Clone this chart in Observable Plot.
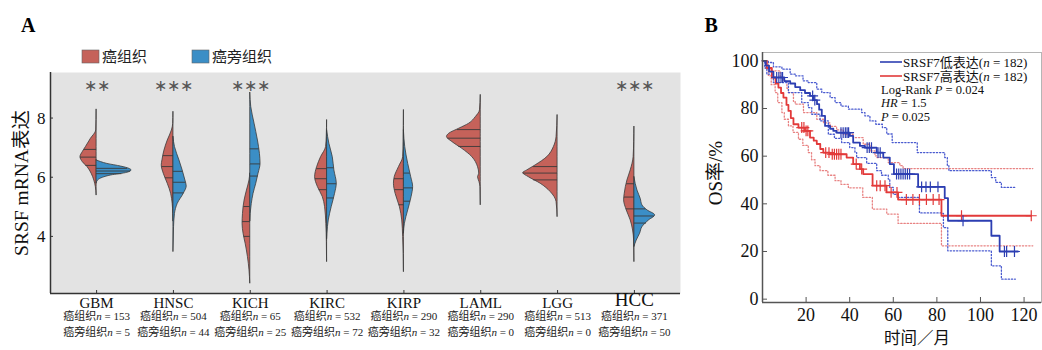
<!DOCTYPE html>
<html><head><meta charset="utf-8">
<script src="https://cdn.jsdelivr.net/npm/d3@7"></script>
<script src="https://cdn.jsdelivr.net/npm/@observablehq/plot@0.6"></script>
<style>
body{margin:0;background:#fff;}
#root{position:relative;width:1042px;height:350px;overflow:hidden;background:#fff;}
#root > svg{position:absolute;top:0;}
</style></head>
<body><div id="root"></div>
<script>
// ---------------- Panel A data ----------------
const cats = ["GBM","HNSC","KICH","KIRC","KIRP","LAML","LGG","HCC"];
const tumorN = [153,504,65,532,290,290,513,371];
const normalN = [5,44,25,72,32,0,0,50];
const sigStars = ["∗∗","∗∗∗","∗∗∗","","","","","∗∗∗"];
const groups = ["癌组织","癌旁组织"];
// violin outlines: [expression value, half-width in category units]
const gbmTumor  = [[8.28,0],[7.58,0.005],[7.3,0.074],[7.02,0.139],[6.85,0.18],[6.68,0.21],[6.51,0.18],[6.34,0.117],[6.12,0.065],[5.89,0.03],[5.67,0.01],[5.38,0]];
const gbmNormal = [[6.57,0],[6.45,0.14],[6.36,0.32],[6.28,0.43],[6.23,0.455],[6.15,0.40],[6.06,0.19],[5.98,0.08],[5.89,0.02],[5.78,0]];
const hnscTumor = [[8.2,0],[7.8,0.003],[7.58,0.02],[7.24,0.074],[6.9,0.117],[6.57,0.143],[6.4,0.152],[6.12,0.126],[5.78,0.074],[5.44,0.03],[5.1,0.01],[4.76,0.002],[4.5,0]];
const hnscNormal= [[7.36,0],[7.02,0.02],[6.57,0.078],[6.23,0.12],[5.89,0.156],[5.69,0.173],[5.44,0.134],[5.1,0.056],[4.76,0.02],[4.31,0.008],[3.86,0.004],[3.47,0]];
const kichTumor = [[6.12,0],[5.89,0.01],[5.55,0.043],[5.21,0.074],[4.76,0.095],[4.42,0.1],[4.09,0.087],[3.75,0.06],[3.3,0.03],[2.85,0.01],[2.4,0]];
const kichNormal= [[8.85,0],[8.37,0.013],[7.81,0.056],[7.24,0.1],[6.79,0.126],[6.45,0.134],[6.12,0.108],[5.78,0.078],[5.44,0.043],[5.1,0.02],[4.76,0.005],[4.5,0]];
const kircTumor = [[7.92,0],[7.4,0.004],[7.02,0.013],[6.68,0.078],[6.34,0.13],[6.0,0.156],[5.67,0.12],[5.33,0.056],[4.99,0.026],[4.42,0.01],[3.8,0.003],[3.13,0]];
const kircNormal= [[7.58,0],[7.13,0.03],[6.68,0.074],[6.23,0.095],[5.78,0.126],[5.44,0.104],[4.99,0.06],[4.54,0.022],[4.09,0.004],[3.9,0]];
const kirpTumor = [[8.26,0],[7.2,0.003],[6.68,0.01],[6.34,0.065],[6.0,0.12],[5.78,0.13],[5.44,0.108],[4.99,0.052],[4.54,0.022],[3.98,0.01],[3.4,0.003],[2.79,0]];
const kirpNormal= [[7.58,0],[7.02,0.017],[6.45,0.056],[6.0,0.095],[5.67,0.12],[5.33,0.1],[4.88,0.056],[4.43,0.013],[4.09,0]];
const lamlTumor = [[8.77,0],[8.26,0.01],[8.03,0.065],[7.81,0.15],[7.64,0.28],[7.47,0.41],[7.36,0.44],[7.19,0.37],[6.96,0.24],[6.68,0.11],[6.34,0.035],[6.12,0.02],[6.0,0.035],[5.84,0.017],[5.67,0.004],[5.05,0]];
const lggTumor  = [[8.09,0],[7.36,0.013],[7.02,0.048],[6.68,0.134],[6.4,0.286],[6.23,0.395],[6.14,0.447],[6.0,0.373],[5.78,0.22],[5.5,0.09],[5.16,0.013],[4.65,0]];
const hccTumor  = [[7.7,0],[7.2,0.003],[6.68,0.01],[6.23,0.048],[5.89,0.091],[5.44,0.126],[5.22,0.134],[4.88,0.1],[4.54,0.048],[4.2,0.017],[3.86,0.004],[3.13,0]];
const hccNormal = [[6.0,0],[5.55,0.04],[5.27,0.082],[5.05,0.104],[4.88,0.17],[4.71,0.27],[4.54,0.19],[4.31,0.104],[4.09,0.074],[3.86,0.03],[3.64,0]];
// quartiles [Q1, median, Q3]
const tumorQ  = [[6.40,6.68,6.94],[5.98,6.36,6.73],[4.0,4.5,5.01],[5.58,5.95,6.29],[5.07,5.58,5.95],[7.04,7.32,7.61],[5.91,6.14,6.36],[4.93,5.33,5.78]];
const normalQ = [[6.12,6.21,6.30],[5.47,5.83,6.20],[6.04,6.45,6.96],[5.30,5.78,6.32],[5.19,5.64,6.14],null,null,[4.45,4.69,4.93]];
const yTicksA = [4,6,8];

// ---------------- Panel B data (Kaplan-Meier) ----------------
const lowCurve = [[0,100],[1.5,98],[3,95.5],[5,93],[10,91.5],[12.7,90.5],[15,89],[17.3,87.7],[19.5,86.5],[21.8,85.3],[23.5,83.5],[25,81.8],[26,79.5],[27.2,76.9],[28.7,72.7],[31,71.5],[32.5,70.6],[34,69.9],[40,68.5],[41.6,65.7],[44.7,64.3],[47,63.6],[52.4,61.5],[55.4,59.4],[58.4,56.7],[60.3,52.5],[71.4,47.1],[83.6,42.4],[85.1,32.9],[105,26.6],[108.8,20],[117.2,20]];
const highCurve = [[0,100],[2,97],[4.3,93],[6,90.5],[7.3,88.8],[8.5,86.5],[9.6,84.6],[11,81.5],[11.9,79],[13,76],[14.2,73.4],[16.5,72],[19.5,70.6],[21.8,67.8],[23.5,66.5],[24.9,65.1],[26.5,63],[27.9,61.5],[31,60.8],[38.6,59.4],[41.6,56.7],[44.7,54.6],[46.2,52.5],[50.5,47.6],[56.9,44.8],[62.2,41.8],[82.1,35],[123.3,35]];
const lowUpper = [[0,100],[2.7,99.3],[5,97.5],[8.9,96.5],[12.7,94.4],[15,93.7],[18.6,91.6],[21,90.9],[24.9,88.1],[27.2,86.7],[31,84.6],[33.3,82.5],[36,81],[39.4,79.7],[45.5,78.3],[47,76.9],[49.3,74.8],[52,73.4],[55,72],[57,69.3],[59.5,65.7],[71,61.5],[83.6,59.4],[84.8,56],[85.5,53.9],[105,51],[107,49],[109.6,46.9],[115.7,46.9]];
const lowLower = [[0,100],[1,97],[2,94.4],[5,90.9],[11.9,86.7],[18,82.5],[21,80.4],[22.6,77.6],[26.4,74.8],[30.2,69.2],[33,67.5],[36.3,65.7],[40,63.6],[42.4,61.5],[43.2,59.4],[47.8,57],[52.4,53.9],[54.6,52],[57.7,50.4],[58.4,46.9],[60,44],[62,42.7],[72,36.2],[82,36],[83,30],[85,20.3],[105,14],[109.6,8.4],[116,8.4]];
const highUpper = [[0,100],[2.7,97.3],[3.5,95.8],[8.1,93],[9.5,91.6],[11.2,88.5],[11.9,86.7],[14.2,83],[15,81.8],[18.8,78.3],[24.9,75.5],[28,74],[31,72.5],[34,71],[37.1,69.2],[41.6,67.8],[46.2,65],[49.3,62.2],[51.6,60.1],[52.4,59.4],[57.7,57.3],[63,56],[64.5,54.8],[124,54.8]];
const highLower = [[0,100],[1.5,96.5],[2.7,93.7],[4,90],[5.8,86.7],[7,82.5],[8.9,78.3],[10,75.5],[11.9,72.7],[14,70],[16.5,67.1],[18.5,64.5],[21,61.5],[22.5,58.5],[24.1,56],[26.4,53.9],[30,52],[33.3,49.7],[36,48.2],[39.4,46.7],[46,42.7],[50.4,37.8],[57,35.7],[62.2,31.8],[82.1,22.4],[124,22.4]];
const lowCensor = [6.5,7.5,8.5,9.2,23,24,36,37,38,38.8,39.5,48,49,50,53,54,61.5,62.5,63.5,64.5,65.5,66.5,67.5,73,75,77,80.5,92,111,112,115.6];
const highCensor = [18,19,20,20.8,29,30.5,32,33,34,35,36,43,45.5,52.4,54,56.2,59,61.7,66,69,72,75.2,78.3,81,91.3,123.3];
const xTicksB = [20,40,60,80,100,120];
const yTicksB = [0,20,40,60,80,100];

// ---------------- styles ----------------
const RED = "#c5625a", BLUE = "#3b8ec6", BG = "#e3e3e3";
const KM_BLUE = "#2c3eb2", KM_RED = "#e23a3a", CI_BLUE = "#4a5bd0", CI_RED = "#e88282";
const FONT = "'Liberation Serif','Noto Sans CJK SC',serif";
const CJK = "'Noto Sans CJK SC','Liberation Serif',sans-serif";

// ---------------- build panel A ----------------
const tumorShapes = [gbmTumor,hnscTumor,kichTumor,kircTumor,kirpTumor,lamlTumor,lggTumor,hccTumor];
const normalShapes = [gbmNormal,hnscNormal,kichNormal,kircNormal,kirpNormal,null,null,hccNormal];
function widthAt(shape, v){
  for (let k=0;k<shape.length-1;k++){
    const [y0,w0]=shape[k],[y1,w1]=shape[k+1];
    if (v<=y0 && v>=y1) return y0===y1?w0:w0+(w1-w0)*(v-y0)/(y1-y0);
  }
  return 0;
}
const violinRows = [], quartRows = [];
cats.forEach((c,i)=>{
  tumorShapes[i].forEach(([v,w])=>violinRows.push({key:c+"-t",group:groups[0],y:v,x1:i,x2:i-w}));
  tumorQ[i].forEach(q=>quartRows.push({y:q,x1:i,x2:i-widthAt(tumorShapes[i],q)}));
  if (normalShapes[i]){
    normalShapes[i].forEach(([v,w])=>violinRows.push({key:c+"-n",group:groups[1],y:v,x1:i,x2:i+w}));
    normalQ[i].forEach(q=>quartRows.push({y:q,x1:i,x2:i+widthAt(normalShapes[i],q)}));
  }
});
const catRows = cats.map((c,i)=>({i,name:c,l2:`癌组织n = ${tumorN[i]}`,l3:`癌旁组织n = ${normalN[i]}`,star:sigStars[i]}));
const xDomA = [-0.6,7.6], yDomA = [2.07,9.54];

const plotA = Plot.plot({
  width:690, height:350, marginLeft:50, marginRight:10, marginTop:72, marginBottom:57,
  style:{fontFamily:FONT, background:"transparent", overflow:"visible"},
  x:{domain:xDomA}, y:{domain:yDomA},
  color:{domain:groups, range:[RED,BLUE]},
  marks:[
    Plot.frame({fill:BG}),
    Plot.areaX(violinRows,{y:"y",x1:"x1",x2:"x2",z:"key",fill:"group",stroke:"#3a3a3a",strokeWidth:0.8,curve:"monotone-y"}),
    Plot.ruleY(quartRows,{y:"y",x1:"x1",x2:"x2",stroke:"#3a3a3a",strokeWidth:0.9}),
    Plot.ruleX([xDomA[0]],{stroke:"#333",strokeWidth:1.5}),
    Plot.ruleY([yDomA[0]],{stroke:"#333",strokeWidth:1.5}),
    Plot.axisY({ticks:yTicksA,tickSize:-3,tickPadding:8,fontSize:17,label:null,stroke:"#333",fill:"#111"}),
    Plot.axisX({ticks:d3.range(cats.length),tickSize:-3,tickFormat:()=>"",label:null,stroke:"#333"}),
    Plot.text(catRows.filter(d=>d.name!=="HCC"),{x:"i",text:"name",frameAnchor:"bottom",dy:14,fontSize:15,fill:"#111"}),
    Plot.text(catRows.filter(d=>d.name==="HCC"),{x:"i",text:"name",frameAnchor:"bottom",dy:12.6,fontSize:19,fill:"#111"}),
    Plot.text(catRows,{x:"i",text:"l2",frameAnchor:"bottom",dy:26.6,fontSize:11,fill:"#222"}),
    Plot.text(catRows,{x:"i",text:"l3",frameAnchor:"bottom",dy:42,fontSize:11,fill:"#222"}),
    Plot.text(catRows,{x:"i",text:"star",frameAnchor:"top",dy:7,fontSize:16,fill:"#555"})
  ]
});
// italic "n" in sample-size labels
d3.select(plotA).selectAll("text").each(function(){
  const t = this.textContent;
  const m = /^(.*?)n( = \d+)$/.exec(t);
  if (m && !this.querySelector("tspan")) {
    this.textContent = "";
    const s = d3.select(this);
    s.append("tspan").text(m[1]);
    s.append("tspan").attr("font-style","italic").text("n");
    s.append("tspan").text(m[2]);
  }
});
plotA.style.left = "0px";

// ---------------- build panel B ----------------
const toRows = arr => arr.map(([t,s])=>({t,s}));
function stepAt(curve, t){ let s = curve[0][1]; for (const [tt,ss] of curve){ if (tt<=t) s = ss; } return s; }
const lowCensorRows = lowCensor.map(t=>({t,s:stepAt(lowCurve,t)}));
const highCensorRows = highCensor.map(t=>({t,s:stepAt(highCurve,t)}));
const xDomB = [0,128], yDomB = [-1.4,103.5];
const ciStyle = {x:"t",y:"s",curve:"step-after",strokeWidth:1.3,strokeDasharray:"1.3 1.9"};

const plotB = Plot.plot({
  width:352, height:350, marginLeft:72, marginRight:1, marginTop:52, marginBottom:48,
  style:{fontFamily:FONT, background:"transparent", overflow:"visible"},
  x:{domain:xDomB}, y:{domain:yDomB},
  marks:[
    Plot.frame({stroke:"#b5b5b5"}),
    Plot.line(toRows(highUpper),{...ciStyle,stroke:CI_RED}),
    Plot.line(toRows(highLower),{...ciStyle,stroke:CI_RED}),
    Plot.line(toRows(lowUpper),{...ciStyle,stroke:CI_BLUE}),
    Plot.line(toRows(lowLower),{...ciStyle,stroke:CI_BLUE}),
    Plot.line(toRows(highCurve),{x:"t",y:"s",curve:"step-after",stroke:KM_RED,strokeWidth:1.8}),
    Plot.dot(highCensorRows,{x:"t",y:"s",symbol:"plus",r:3.6,stroke:KM_RED,strokeWidth:1.2}),
    Plot.line(toRows(lowCurve),{x:"t",y:"s",curve:"step-after",stroke:KM_BLUE,strokeWidth:1.8}),
    Plot.dot(lowCensorRows,{x:"t",y:"s",symbol:"plus",r:3.6,stroke:KM_BLUE,strokeWidth:1.2}),
    Plot.ruleX([xDomB[0]],{stroke:"#555",strokeWidth:1.5}),
    Plot.ruleY([yDomB[0]],{stroke:"#555",strokeWidth:1.5}),
    Plot.axisX({ticks:xTicksB,tickSize:-5,tickPadding:10.5,fontSize:18,label:null,stroke:"#555",fill:"#111"}),
    Plot.axisY({ticks:yTicksB,tickSize:-5,tickPadding:9,fontSize:18,label:null,stroke:"#555",fill:"#111"})
  ]
});
plotB.style.left = "690px";

const root = document.getElementById("root");
root.appendChild(plotA);
root.appendChild(plotB);

// ---------------- titles, legends, axis titles ----------------
const ov = d3.select(root).append("svg").attr("width",1042).attr("height",350)
  .style("left","0px").style("pointer-events","none");
ov.append("text").attr("x",21).attr("y",32).attr("font-family",FONT).attr("font-weight","bold").attr("font-size",20).text("A");
ov.append("text").attr("x",704.5).attr("y",32).attr("font-family",FONT).attr("font-weight","bold").attr("font-size",20).text("B");
// legend A
const legA = [{label:groups[0],color:RED,x:82},{label:groups[1],color:BLUE,x:192}];
legA.forEach(d=>{
  ov.append("rect").attr("x",d.x).attr("y",50).attr("width",17).attr("height",13).attr("fill",d.color).attr("stroke","#666").attr("stroke-width",0.6);
  ov.append("text").attr("x",d.x+20).attr("y",61.5).attr("font-family",CJK).attr("font-size",15).attr("fill","#222").text(d.label);
});
// y title A
ov.append("text").attr("transform","translate(28,183) rotate(-90)").attr("text-anchor","middle")
  .attr("font-family",FONT).attr("font-size",19.5).attr("fill","#111").text("SRSF mRNA表达");
// axis titles B
ov.append("text").attr("transform","translate(722,173) rotate(-90)").attr("text-anchor","middle")
  .attr("font-family",FONT).attr("font-size",19).attr("fill","#111").text("OS率/%");
ov.append("text").attr("x",917).attr("y",344).attr("text-anchor","middle")
  .attr("font-family",FONT).attr("font-size",16.5).attr("fill","#111").text("时间／月");
// legend B
const legB = [{label:"SRSF7低表达",color:KM_BLUE,y:62},{label:"SRSF7高表达",color:KM_RED,y:76}];
legB.forEach(d=>{
  ov.append("line").attr("x1",880).attr("x2",902).attr("y1",d.y).attr("y2",d.y).attr("stroke",d.color).attr("stroke-width",1.6);
  const t = ov.append("text").attr("x",903).attr("y",d.y+4.5).attr("font-family",FONT).attr("font-size",13).attr("fill","#111");
  t.append("tspan").text(d.label+"(");
  t.append("tspan").attr("font-style","italic").text("n");
  t.append("tspan").text(" = 182)");
});
const stats = [[["Log-Rank ",false],["P",true],[" = 0.024",false]],[["HR",true],[" = 1.5",false]],[["P",true],[" = 0.025",false]]];
const statY = [94,107,120.5];
stats.forEach((parts,k)=>{
  const t = ov.append("text").attr("x",881).attr("y",statY[k]).attr("font-family",FONT).attr("font-size",12.5).attr("fill","#111");
  parts.forEach(([s,it])=>t.append("tspan").attr("font-style",it?"italic":null).text(s));
});
</script>
</body></html>
